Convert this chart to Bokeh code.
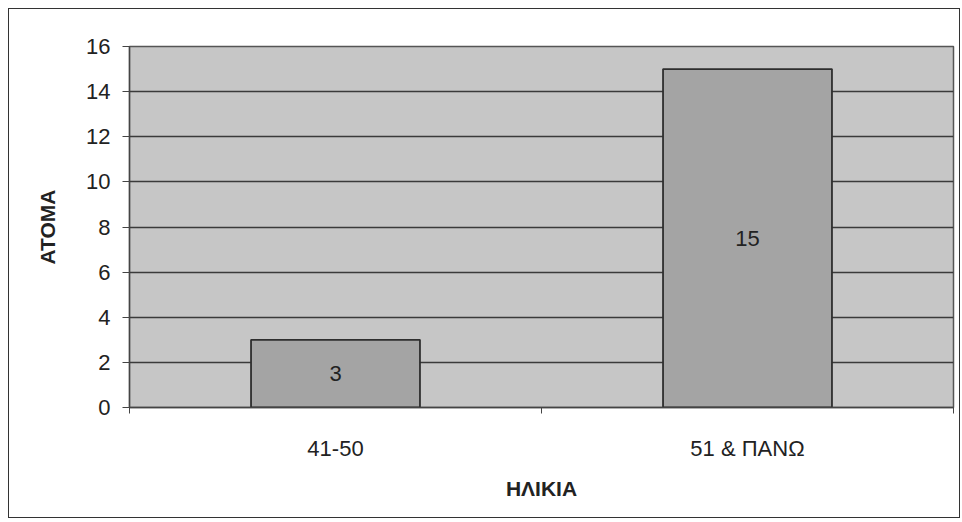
from bokeh.plotting import figure
from bokeh.models import ColumnDataSource, Range1d, FixedTicker, LabelSet
from bokeh.core.properties import value
from bokeh.embed import file_html
from bokeh.resources import INLINE

categories = ["41-50", "51 & ΠΑΝΩ"]
values = [3, 15]
y_ticks = [0, 2, 4, 6, 8, 10, 12, 14, 16]

pos = [i + 0.5 for i in range(len(categories))]
src = ColumnDataSource(dict(x=pos, cat=categories, val=values,
                            mid=[v / 2 for v in values],
                            lbl=[str(v) for v in values]))

FONT = "Liberation Sans"

p = figure(width=952, height=510,
           output_backend="svg", toolbar_location=None,
           min_border_left=120, min_border_right=8,
           min_border_top=37, min_border_bottom=112)
p.styles = {"border": "1px solid #333333", "margin-left": "8px", "margin-top": "8px"}
p.x_range = Range1d(0, len(categories))
p.y_range = Range1d(0, 16)

p.background_fill_color = "#c6c6c6"
p.border_fill_color = "white"
p.outline_line_color = "#555555"
p.outline_line_width = 1.5

p.vbar(x="x", top="val", width=0.41, source=src,
       fill_color="#a4a4a4", line_color="#2e2e2e", line_width=1.8)

labels = LabelSet(x="x", y="mid", text="lbl", source=src,
                  text_align="center", text_baseline="middle",
                  text_font=value(FONT), text_font_size="22px", text_color="#222222")
p.add_layout(labels)

p.xgrid.grid_line_color = None
p.ygrid.grid_line_color = "#3a3a3a"
p.ygrid.grid_line_width = 1.3
p.yaxis.ticker = FixedTicker(ticks=y_ticks)
p.xaxis.ticker = FixedTicker(ticks=pos,
                             minor_ticks=list(range(len(categories) + 1)))
p.xaxis.major_label_overrides = {x: c for x, c in zip(pos, categories)}

for ax in (p.xaxis, p.yaxis):
    ax.axis_line_color = "#444444"
    ax.axis_line_width = 1.3
    ax.major_tick_line_color = "#444444"
    ax.major_tick_in = 0
    ax.minor_tick_in = 0
    ax.major_label_text_font = FONT
    ax.major_label_text_font_size = "22px"
    ax.major_label_text_color = "#222222"
    ax.axis_label_text_font = FONT
    ax.axis_label_text_font_size = "21px"
    ax.axis_label_text_font_style = "bold"
    ax.axis_label_text_color = "#222222"

p.yaxis.minor_tick_line_color = None
p.yaxis.major_tick_out = 7
p.yaxis.major_label_standoff = 12
p.yaxis.axis_label = "ATOMA"
p.yaxis.axis_label_standoff = 24

p.xaxis.major_tick_out = 0
p.xaxis.major_tick_line_color = None
p.xaxis.minor_tick_line_color = "#444444"
p.xaxis.minor_tick_out = 6
p.xaxis.major_label_standoff = 22
p.xaxis.axis_label = "ΗΛΙΚΙΑ"
p.xaxis.axis_label_standoff = 13

open("out.html", "w").write(file_html(p, INLINE))
